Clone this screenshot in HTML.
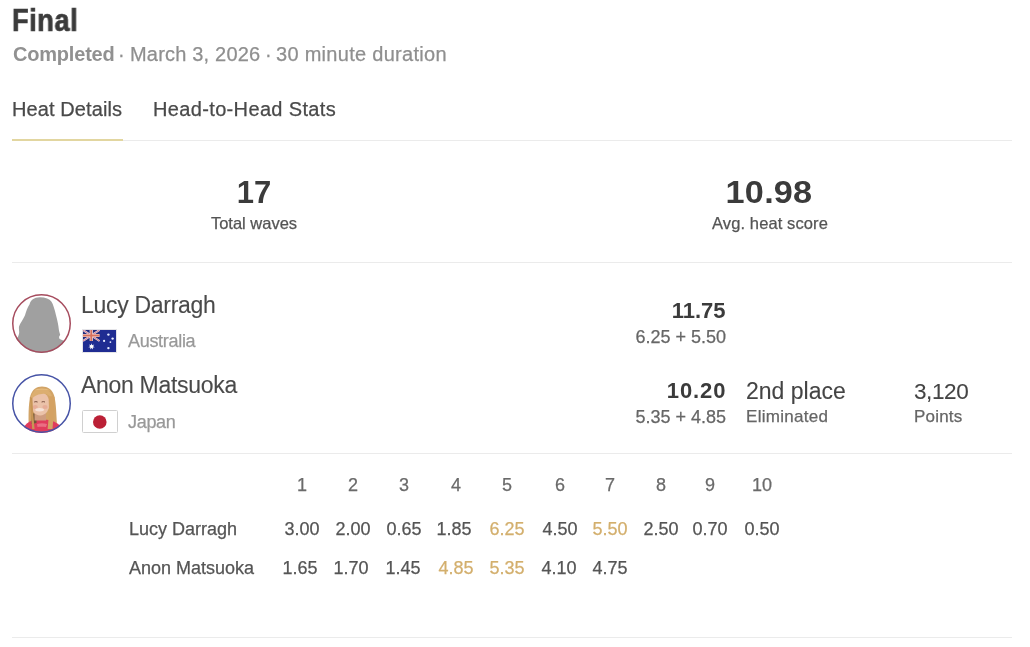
<!DOCTYPE html>
<html><head><meta charset="utf-8">
<style>
*{margin:0;padding:0;box-sizing:border-box}
html,body{width:1030px;height:647px;background:#fff;overflow:hidden}
body{font-family:"Liberation Sans",sans-serif;position:relative;color:#444}
.a{position:absolute;white-space:nowrap;line-height:1;will-change:transform;-webkit-text-stroke:0.25px currentColor}
.hr{position:absolute;left:12px;width:1000px;height:1px;background:#ebebeb}
.c{text-align:center}
.r{text-align:right}
</style></head><body>
<div class="a" id="title" style="left:11.8px;top:5.3px;font-size:30.6px;letter-spacing:0.7px;transform:scaleX(0.885);transform-origin:0 0;font-weight:bold;-webkit-text-stroke:0.7px currentColor;color:#3b3b3b">Final</div>
<div class="a" id="sb1" style="left:12.5px;top:44px;font-size:20px;font-weight:bold;-webkit-text-stroke:0;color:#919191;letter-spacing:-0.2px">Completed</div>
<div class="a" id="sd1" style="left:118px;top:44px;font-size:20px;color:#8f8f8f">·</div>
<div class="a" id="sm" style="left:130px;top:44px;font-size:20px;color:#8f8f8f;letter-spacing:0.19px">March 3, 2026</div>
<div class="a" id="sd2" style="left:265px;top:44px;font-size:20px;color:#8f8f8f">·</div>
<div class="a" id="sdu" style="left:276.3px;top:44px;font-size:20px;color:#8f8f8f;letter-spacing:0.29px">30 minute duration</div>
<div class="a" id="tab1" style="left:12px;top:98.5px;font-size:20px;letter-spacing:0.1px;color:#4a4a4a">Heat Details</div>
<div class="a" id="tab2" style="left:153px;top:98.5px;font-size:20px;letter-spacing:0.35px;color:#4a4a4a">Head-to-Head Stats</div>
<div class="hr" style="top:140px"></div>
<div style="position:absolute;left:12px;top:139px;width:111px;height:2px;background:#e2d6a0"></div>

<div class="a c" id="s1" style="left:204px;width:100px;top:177px;font-size:31px;font-weight:bold;-webkit-text-stroke:0;color:#3b3b3b">17</div>
<div class="a c" id="s1l" style="left:184px;width:140px;top:215px;font-size:16.5px;color:#555">Total waves</div>
<div class="a c" id="s2" style="left:698.8px;width:140px;top:176px;font-size:32px;letter-spacing:0.2px;transform:scaleX(1.07);font-weight:bold;-webkit-text-stroke:0;color:#3b3b3b">10.98</div>
<div class="a c" id="s2l" style="left:699.5px;width:140px;top:215px;font-size:16.5px;letter-spacing:0.1px;color:#555">Avg. heat score</div>
<div class="hr" style="top:262px"></div>


<div id="av1" style="position:absolute;left:12px;top:294px;width:59px;height:59px;border-radius:50%;overflow:hidden;background:#fff">
<svg width="59" height="59" viewBox="0 0 59 59" style="position:absolute;left:0;top:0">
<path fill="#a0a0a0" d="M17.6 10.2C18.5 6 22 3.3 27.8 3.2C33.5 3.2 37.5 4.8 39.5 7.8C41.2 10.5 42.5 15 44 21.3C45.5 27 46.5 31.5 46.8 35.3C47.2 38 48 40 48.2 40.8C47.5 42 46.8 42.7 47.3 44.5C48.5 45.5 50 46 51 46.4L60 50L60 62L0 62L0 45C3 44.5 5 44 5.6 43.6C6.5 41.7 7.2 40 7.2 38C7 36 6.8 34 7 32.5C7.5 31 8 30 8.5 29.2C10 27 11.5 24.5 13 21.3C14 17.5 15.5 13 17.6 10.2Z"/>
</svg></div>
<div id="av2" style="position:absolute;left:12px;top:374px;width:59px;height:59px;border-radius:50%;overflow:hidden;background:#fff">
<svg width="59" height="59" viewBox="0 0 59 59" style="filter:blur(0.7px);position:absolute;left:0;top:0">
<g>
<path fill="#d2a467" d="M16.8 54C16.3 42 16.5 30 18.3 22C20.3 15.5 24.5 12.6 30 12.6C35.5 12.6 40.5 15.5 42.3 22C44.3 30 44.3 42 45.3 54Z"/>
<path fill="#e03c5c" d="M9 62L12.5 52C15.5 48.5 19 46.5 23 45.8L35 45.8C40 46.5 45 48.5 48 51.5L52 62Z"/>
<path fill="#ee8494" d="M25 50C28 49 32 49 35 50L34 53C31 52.5 28 52.5 25.5 53Z" opacity="0.7"/>
<path fill="#6e5636" d="M19.8 39L24.5 40L24.5 49L19.5 50Z"/>
<rect x="22.5" y="37" width="11.5" height="9.5" fill="#cf9c80"/>
<ellipse cx="28.2" cy="29.8" rx="9.6" ry="11.6" fill="#ebc2a9"/>
<ellipse cx="23.2" cy="33" rx="2.6" ry="2" fill="#e7ad98"/>
<ellipse cx="33" cy="33" rx="2.6" ry="2" fill="#e7ad98"/>
<path fill="#dcae70" d="M18.8 26C18.8 18.5 23.5 14.8 29.5 14.8C35.5 14.8 40.5 18.5 40.5 26C38 21.5 35 19.8 31.5 19.8C27 20 22.5 21.5 18.8 26Z"/>
<path fill="#c89656" d="M17.8 23C18.6 33 19.2 44 20.2 55L22.6 55C21.6 45 20.8 34 20.4 24Z"/>
<path fill="#d4a263" d="M42.6 23C41.8 33 41.5 44 40.5 55L35.6 55C36.8 45 37.3 34 36.6 24C37.5 22 40 21.5 42.6 23Z"/>
<path fill="#e8bd7e" d="M22 16.5C25 13.8 35 13.8 38 16.5C35 15.5 25 15.5 22 16.5Z"/>
<ellipse cx="27.6" cy="35.8" rx="4.4" ry="1.7" fill="#f6e2d8"/>
<path d="M22.2 28q1.7-0.8 3.4 0M29.6 28q1.7-0.8 3.4 0" stroke="#7a5040" stroke-width="1" fill="none"/>
</g>
</svg></div>
<svg style="position:absolute;left:12px;top:294px" width="59" height="59" viewBox="0 0 59 59"><circle cx="29.5" cy="29.5" r="28.75" fill="none" stroke="#a64c5e" stroke-width="1.5"/></svg>
<svg style="position:absolute;left:12px;top:374px" width="59" height="59" viewBox="0 0 59 59"><circle cx="29.5" cy="29.5" r="28.75" fill="none" stroke="#4653a6" stroke-width="1.5"/></svg>
<div id="fl1" style="position:absolute;left:81.5px;top:329px;width:35px;height:24px;background:#e4e4e8;padding:1px">
<svg width="33" height="22" viewBox="0 0 33 22" style="filter:blur(0.3px);display:block">
<rect width="33" height="22" fill="#1f2c92"/>
<g>
<rect width="16.5" height="11" fill="#222a7c"/>
<g stroke="#e8dde8" stroke-width="2"><path d="M0 0L16.5 11M16.5 0L0 11"/></g>
<g stroke="#c8506a" stroke-width="0.7"><path d="M0 0L16.5 11M16.5 0L0 11"/></g>
<path d="M8.25 0V11M0 5.5H16.5" stroke="#f0e0e0" stroke-width="3.2"/>
<path d="M8.25 0V11M0 5.5H16.5" stroke="#d8705c" stroke-width="1.8"/>
<polygon points="8.60,13.30 9.25,15.25 11.18,14.54 10.06,16.27 11.82,17.33 9.77,17.54 10.03,19.57 8.60,18.10 7.17,19.57 7.43,17.54 5.38,17.33 7.14,16.27 6.02,14.54 7.95,15.25" fill="#fff"/>
<g fill="#e8ecff"><circle cx="25.4" cy="4.6" r="1.2"/><circle cx="29.6" cy="8.6" r="1.2"/><circle cx="21.1" cy="10.9" r="1.1"/><circle cx="27.4" cy="12.1" r="0.9"/><circle cx="25.4" cy="18.1" r="1.2"/></g>
</g>
</svg></div>
<div id="fl2" style="position:absolute;left:81.5px;top:409.5px;width:36px;height:23.5px;background:#fff;border:1px solid #d0d0d0;border-radius:1.5px">
<svg width="34" height="21.5" viewBox="0 0 34 21.5" style="display:block"><circle cx="16.8" cy="11" r="6.8" fill="#bb2036"/></svg></div>

<!-- player 1 -->
<div class="a" id="n1" style="-webkit-text-stroke:0.1px currentColor;left:81px;top:293.5px;font-size:23px;letter-spacing:-0.3px;color:#4a4a4a">Lucy Darragh</div>
<div class="a" id="c1" style="left:128px;top:332px;font-size:18px;letter-spacing:-0.3px;color:#999">Australia</div>
<div class="a r" id="t1" style="left:600px;width:125.5px;top:300px;font-size:22px;font-weight:bold;-webkit-text-stroke:0;color:#3b3b3b">11.75</div>
<div class="a r" id="w1" style="left:600px;width:126px;top:327.5px;font-size:18px;color:#666">6.25 + 5.50</div>

<!-- player 2 -->
<div class="a" id="n2" style="-webkit-text-stroke:0.1px currentColor;left:80.5px;top:373.5px;font-size:23px;letter-spacing:-0.3px;color:#4a4a4a">Anon Matsuoka</div>
<div class="a" id="c2" style="left:128px;top:413px;font-size:18px;letter-spacing:-0.3px;color:#999">Japan</div>
<div class="a r" id="t2" style="left:600px;width:126.4px;top:380px;font-size:22px;letter-spacing:0.9px;font-weight:bold;-webkit-text-stroke:0;color:#3b3b3b">10.20</div>
<div class="a r" id="w2" style="left:600px;width:126px;top:407.5px;font-size:18px;color:#666">5.35 + 4.85</div>
<div class="a" id="pl" style="-webkit-text-stroke:0.1px currentColor;left:746px;top:380px;font-size:23px;color:#444">2nd place</div>
<div class="a" id="el" style="left:746px;top:408px;font-size:17px;letter-spacing:0.3px;color:#666">Eliminated</div>
<div class="a" id="pt" style="-webkit-text-stroke:0.1px currentColor;left:914px;top:380.5px;font-size:22.5px;letter-spacing:-0.4px;color:#444">3,120</div>
<div class="a" id="po" style="left:914px;top:408px;font-size:17px;letter-spacing:0.2px;color:#666">Points</div>
<div class="hr" style="top:453px"></div>


<!-- table -->
<div class="a" id="tn1" style="left:129px;top:520px;font-size:18px;color:#555">Lucy Darragh</div>
<div class="a" id="tn2" style="left:129px;top:559px;font-size:18px;color:#555">Anon Matsuoka</div>
<div class="a c" id="h1" style="left:277px;width:50px;top:476px;font-size:18px;color:#6a6a6a">1</div>
<div class="a c" id="h2" style="left:328px;width:50px;top:476px;font-size:18px;color:#6a6a6a">2</div>
<div class="a c" id="h3" style="left:379.3px;width:50px;top:476px;font-size:18px;color:#6a6a6a">3</div>
<div class="a c" id="h4" style="left:430.5px;width:50px;top:476px;font-size:18px;color:#6a6a6a">4</div>
<div class="a c" id="h5" style="left:482px;width:50px;top:476px;font-size:18px;color:#6a6a6a">5</div>
<div class="a c" id="h6" style="left:534.8px;width:50px;top:476px;font-size:18px;color:#6a6a6a">6</div>
<div class="a c" id="h7" style="left:585px;width:50px;top:476px;font-size:18px;color:#6a6a6a">7</div>
<div class="a c" id="h8" style="left:636px;width:50px;top:476px;font-size:18px;color:#6a6a6a">8</div>
<div class="a c" id="h9" style="left:685.2px;width:50px;top:476px;font-size:18px;color:#6a6a6a">9</div>
<div class="a c" id="h10" style="left:737px;width:50px;top:476px;font-size:18px;color:#6a6a6a">10</div>
<div class="a c" id="a1" style="left:277px;width:50px;top:520px;font-size:18px;color:#555">3.00</div>
<div class="a c" id="a2" style="left:328px;width:50px;top:520px;font-size:18px;color:#555">2.00</div>
<div class="a c" id="a3" style="left:379.3px;width:50px;top:520px;font-size:18px;color:#555">0.65</div>
<div class="a c" id="a4" style="left:428.5px;width:50px;top:520px;font-size:18px;color:#555">1.85</div>
<div class="a c" id="a5" style="left:482px;width:50px;top:520px;font-size:18px;color:#d3af6d">6.25</div>
<div class="a c" id="a6" style="left:534.8px;width:50px;top:520px;font-size:18px;color:#555">4.50</div>
<div class="a c" id="a7" style="left:585px;width:50px;top:520px;font-size:18px;color:#d3af6d">5.50</div>
<div class="a c" id="a8" style="left:636px;width:50px;top:520px;font-size:18px;color:#555">2.50</div>
<div class="a c" id="a9" style="left:685.2px;width:50px;top:520px;font-size:18px;color:#555">0.70</div>
<div class="a c" id="a10" style="left:737px;width:50px;top:520px;font-size:18px;color:#555">0.50</div>
<div class="a c" id="b1" style="left:275.2px;width:50px;top:559px;font-size:18px;color:#555">1.65</div>
<div class="a c" id="b2" style="left:326.2px;width:50px;top:559px;font-size:18px;color:#555">1.70</div>
<div class="a c" id="b3" style="left:377.8px;width:50px;top:559px;font-size:18px;color:#555">1.45</div>
<div class="a c" id="b4" style="left:430.5px;width:50px;top:559px;font-size:18px;color:#d3af6d">4.85</div>
<div class="a c" id="b5" style="left:482px;width:50px;top:559px;font-size:18px;color:#d3af6d">5.35</div>
<div class="a c" id="b6" style="left:533.8px;width:50px;top:559px;font-size:18px;color:#555">4.10</div>
<div class="a c" id="b7" style="left:585px;width:50px;top:559px;font-size:18px;color:#555">4.75</div>
<div class="hr" style="top:637px"></div>
</body></html>
